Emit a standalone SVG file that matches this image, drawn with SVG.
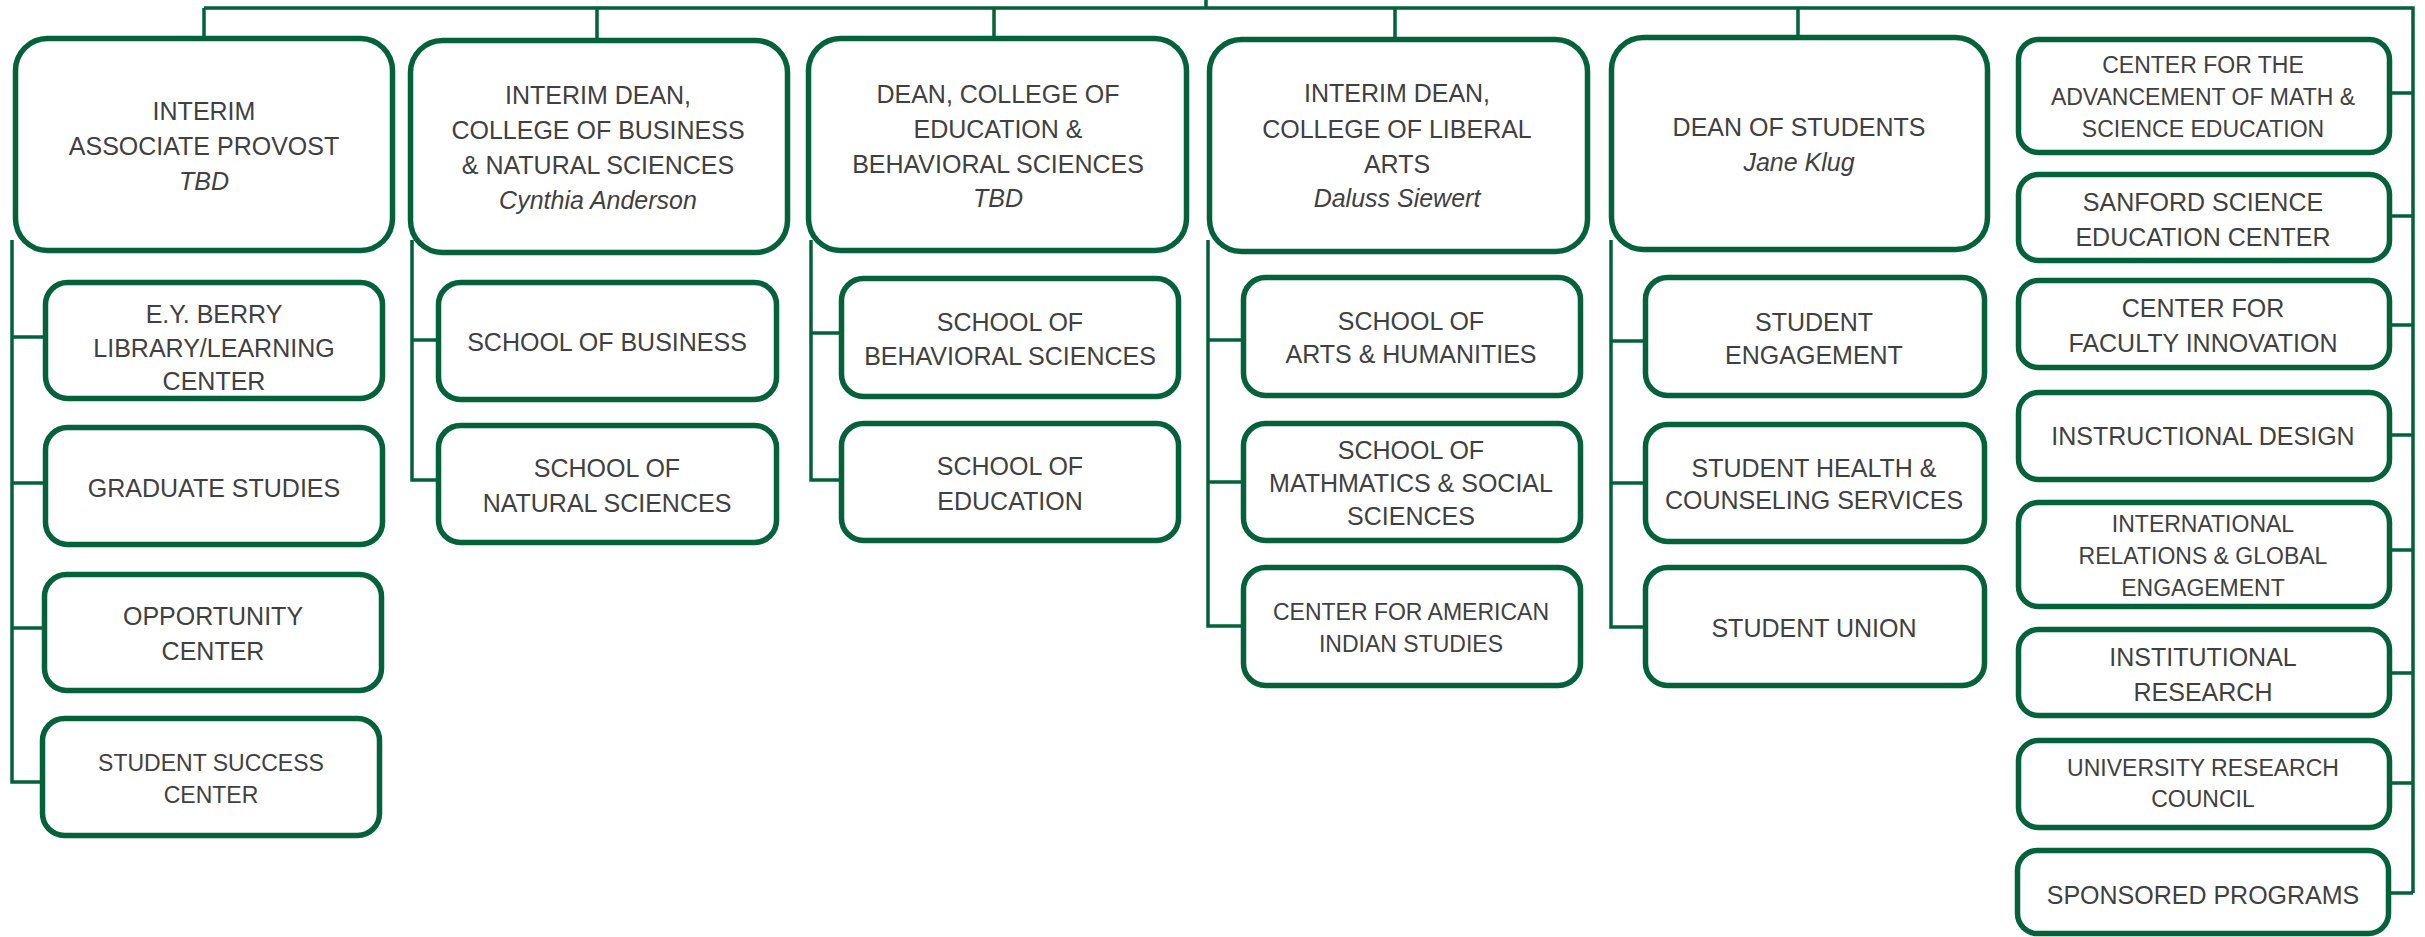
<svg xmlns="http://www.w3.org/2000/svg" width="2425" height="937" viewBox="0 0 2425 937">
<style>
.b{fill:#fff;stroke:#03623a;stroke-width:5.5}
.c{fill:none;stroke:#03623a;stroke-width:3.5}
text{font-family:"Liberation Sans",Arial,sans-serif;font-size:25px;fill:#404040;text-anchor:middle}
.s{font-size:23px}
.i{font-style:italic}
</style>
<rect width="2425" height="937" fill="#fff"/>
<g id="connectors">
<path class="c" d="M1206 0V8M204 8H2413V893M204 8V38M597 8V40M994 8V38M1395 8V39M1798 8V37"/>
<path class="c" d="M12 240V782H42M12 337H43M12 483H43M12 628H43"/>
<path class="c" d="M412 240V480H436M412 340H436"/>
<path class="c" d="M811 240V480H839M811 333H839"/>
<path class="c" d="M1208 240V626H1241M1208 340H1241M1208 482H1241"/>
<path class="c" d="M1611 240V627H1643M1611 341H1643M1611 483H1643"/>
<path class="c" d="M2391 93H2413M2391 216H2413M2391 325H2413M2391 435H2413M2391 550H2413M2391 673H2413M2391 783H2413M2391 893H2413"/>
</g>
<g id="n1"><rect class="b" x="15.5" y="38.5" width="377" height="212" rx="32"/><text x="204" y="120">INTERIM</text><text x="204" y="155">ASSOCIATE PROVOST</text><text class="i" x="204" y="190">TBD</text></g>
<g id="n2"><rect class="b" x="410.5" y="40.5" width="377" height="212" rx="32"/><text x="598" y="104">INTERIM DEAN,</text><text x="598" y="139">COLLEGE OF BUSINESS</text><text x="598" y="174">&amp; NATURAL SCIENCES</text><text class="i" x="598" y="209">Cynthia Anderson</text></g>
<g id="n3"><rect class="b" x="808.5" y="38.5" width="378" height="212" rx="32"/><text x="998" y="103">DEAN, COLLEGE OF</text><text x="998" y="138">EDUCATION &amp;</text><text x="998" y="173">BEHAVIORAL SCIENCES</text><text class="i" x="998" y="207">TBD</text></g>
<g id="n4"><rect class="b" x="1209.5" y="39.5" width="378" height="212" rx="32"/><text x="1397" y="102">INTERIM DEAN,</text><text x="1397" y="138">COLLEGE OF LIBERAL</text><text x="1397" y="173">ARTS</text><text class="i" x="1397" y="207">Daluss Siewert</text></g>
<g id="n5"><rect class="b" x="1611.5" y="37.5" width="376" height="212" rx="32"/><text x="1799" y="136">DEAN OF STUDENTS</text><text class="i" x="1799" y="171">Jane Klug</text></g>
<g id="n6"><rect class="b" x="45.5" y="282.5" width="337" height="116" rx="22"/><text x="214" y="323">E.Y. BERRY</text><text x="214" y="357">LIBRARY/LEARNING</text><text x="214" y="390">CENTER</text></g>
<g id="n7"><rect class="b" x="45.5" y="427.5" width="337" height="117" rx="22"/><text x="214" y="497">GRADUATE STUDIES</text></g>
<g id="n8"><rect class="b" x="44.5" y="574.5" width="337" height="116" rx="22"/><text x="213" y="625">OPPORTUNITY</text><text x="213" y="660">CENTER</text></g>
<g id="n9"><rect class="b" x="42.5" y="718.5" width="337" height="117" rx="22"/><text class="s" x="211" y="771">STUDENT SUCCESS</text><text class="s" x="211" y="803">CENTER</text></g>
<g id="n10"><rect class="b" x="438.5" y="282.5" width="338" height="117" rx="22"/><text x="607" y="351">SCHOOL OF BUSINESS</text></g>
<g id="n11"><rect class="b" x="438.5" y="425.5" width="338" height="117" rx="22"/><text x="607" y="477">SCHOOL OF</text><text x="607" y="512">NATURAL SCIENCES</text></g>
<g id="n12"><rect class="b" x="841.5" y="278.5" width="337" height="118" rx="22"/><text x="1010" y="331">SCHOOL OF</text><text x="1010" y="365">BEHAVIORAL SCIENCES</text></g>
<g id="n13"><rect class="b" x="841.5" y="423.5" width="337" height="117" rx="22"/><text x="1010" y="475">SCHOOL OF</text><text x="1010" y="510">EDUCATION</text></g>
<g id="n14"><rect class="b" x="1243.5" y="277.5" width="337" height="118" rx="22"/><text x="1411" y="330">SCHOOL OF</text><text x="1411" y="363">ARTS &amp; HUMANITIES</text></g>
<g id="n15"><rect class="b" x="1243.5" y="423.5" width="337" height="117" rx="22"/><text x="1411" y="459">SCHOOL OF</text><text x="1411" y="492">MATHMATICS &amp; SOCIAL</text><text x="1411" y="525">SCIENCES</text></g>
<g id="n16"><rect class="b" x="1243.5" y="567.5" width="337" height="118" rx="22"/><text class="s" x="1411" y="620">CENTER FOR AMERICAN</text><text class="s" x="1411" y="652">INDIAN STUDIES</text></g>
<g id="n17"><rect class="b" x="1645.5" y="277.5" width="339" height="118" rx="22"/><text x="1814" y="331">STUDENT</text><text x="1814" y="364">ENGAGEMENT</text></g>
<g id="n18"><rect class="b" x="1645.5" y="424.5" width="339" height="117" rx="22"/><text x="1814" y="477">STUDENT HEALTH &amp;</text><text x="1814" y="509">COUNSELING SERVICES</text></g>
<g id="n19"><rect class="b" x="1645.5" y="567.5" width="339" height="118" rx="22"/><text x="1814" y="637">STUDENT UNION</text></g>
<g id="n20"><rect class="b" x="2018.5" y="39.5" width="371" height="113" rx="20"/><text class="s" x="2203" y="73">CENTER FOR THE</text><text class="s" x="2203" y="105">ADVANCEMENT OF MATH &amp;</text><text class="s" x="2203" y="137">SCIENCE EDUCATION</text></g>
<g id="n21"><rect class="b" x="2018.5" y="174.5" width="371" height="86" rx="20"/><text x="2203" y="211">SANFORD SCIENCE</text><text x="2203" y="246">EDUCATION CENTER</text></g>
<g id="n22"><rect class="b" x="2018.5" y="280.5" width="371" height="87" rx="20"/><text x="2203" y="317">CENTER FOR</text><text x="2203" y="352">FACULTY INNOVATION</text></g>
<g id="n23"><rect class="b" x="2018.5" y="392.5" width="371" height="87" rx="20"/><text x="2203" y="445">INSTRUCTIONAL DESIGN</text></g>
<g id="n24"><rect class="b" x="2018.5" y="502.5" width="371" height="104" rx="20"/><text class="s" x="2203" y="532">INTERNATIONAL</text><text class="s" x="2203" y="564">RELATIONS &amp; GLOBAL</text><text class="s" x="2203" y="596">ENGAGEMENT</text></g>
<g id="n25"><rect class="b" x="2018.5" y="629.5" width="371" height="86" rx="20"/><text x="2203" y="666">INSTITUTIONAL</text><text x="2203" y="701">RESEARCH</text></g>
<g id="n26"><rect class="b" x="2018.5" y="740.5" width="371" height="87" rx="20"/><text class="s" x="2203" y="776">UNIVERSITY RESEARCH</text><text class="s" x="2203" y="807">COUNCIL</text></g>
<g id="n27"><rect class="b" x="2017.5" y="850.5" width="371" height="83" rx="20"/><text x="2203" y="904">SPONSORED PROGRAMS</text></g>
</svg>
